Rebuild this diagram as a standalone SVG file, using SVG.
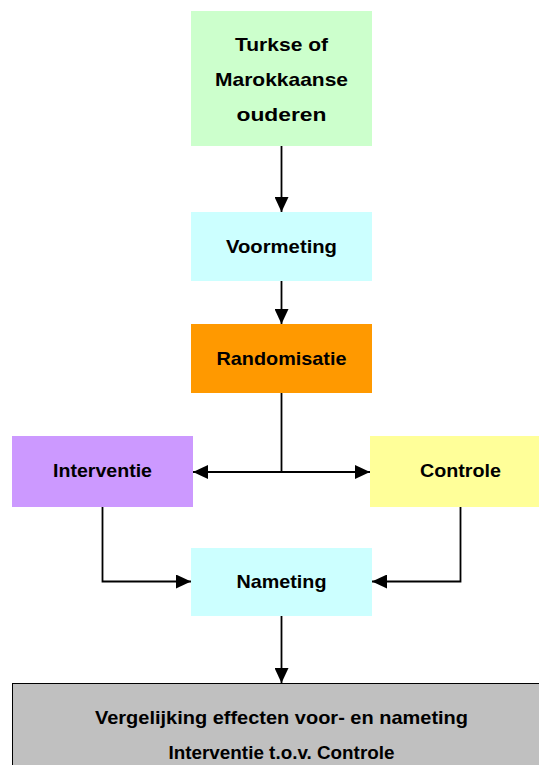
<svg xmlns="http://www.w3.org/2000/svg" width="539" height="765" viewBox="0 0 539 765">
<defs>
<marker id="ah" viewBox="0 0 15 14" refX="15" refY="7" markerWidth="15" markerHeight="14" markerUnits="userSpaceOnUse" orient="auto-start-reverse">
<path d="M0,0 L15,7 L0,14 z" fill="#000"/>
</marker>
</defs>
<style>
text{font-family:"Liberation Sans",Arial,sans-serif;font-weight:bold;font-size:19px;fill:#000;text-anchor:middle}
.c{fill:none;stroke:#000;stroke-width:1.8}
</style>
<rect width="539" height="765" fill="#fff"/>
<g id="connectors">
<line class="c" x1="281.5" y1="146" x2="281.5" y2="212" marker-end="url(#ah)"/>
<line class="c" x1="281.5" y1="281" x2="281.5" y2="324" marker-end="url(#ah)"/>
<line class="c" x1="281.5" y1="393" x2="281.5" y2="472"/>
<line class="c" x1="193" y1="472" x2="370" y2="472" marker-start="url(#ah)" marker-end="url(#ah)"/>
<polyline class="c" points="102.5,507 102.5,581.5 191,581.5" marker-end="url(#ah)"/>
<polyline class="c" points="460.5,507 460.5,581.5 372,581.5" marker-end="url(#ah)"/>
<line class="c" x1="281.5" y1="616" x2="281.5" y2="683" marker-end="url(#ah)"/>
</g>
<g id="n-turkse">
<rect x="191" y="11" width="181" height="135" fill="#CCFFCC"/>
<text x="281.5" y="51" textLength="93" lengthAdjust="spacingAndGlyphs">Turkse of</text>
<text x="281.5" y="85.5" textLength="133" lengthAdjust="spacingAndGlyphs">Marokkaanse</text>
<text x="281.5" y="120.5" textLength="90" lengthAdjust="spacingAndGlyphs">ouderen</text>
</g>
<g id="n-voormeting">
<rect x="191" y="212" width="181" height="69" fill="#CCFFFF"/>
<text x="281.5" y="253" textLength="111" lengthAdjust="spacingAndGlyphs">Voormeting</text>
</g>
<g id="n-randomisatie">
<rect x="191" y="324" width="181" height="69" fill="#FF9900"/>
<text x="281.5" y="365" textLength="130" lengthAdjust="spacingAndGlyphs">Randomisatie</text>
</g>
<g id="n-interventie">
<rect x="12" y="436" width="181" height="71" fill="#CC99FF"/>
<text x="102.5" y="476.5" textLength="99" lengthAdjust="spacingAndGlyphs">Interventie</text>
</g>
<g id="n-controle">
<rect x="370" y="436" width="181" height="71" fill="#FFFF99"/>
<text x="460.5" y="476.5" textLength="81" lengthAdjust="spacingAndGlyphs">Controle</text>
</g>
<g id="n-nameting">
<rect x="191" y="548" width="181" height="68" fill="#CCFFFF"/>
<text x="281.5" y="588" textLength="90" lengthAdjust="spacingAndGlyphs">Nameting</text>
</g>
<g id="n-vergelijking">
<rect x="12.5" y="683.5" width="538" height="100" fill="#C0C0C0" stroke="#000" stroke-width="1"/>
<text x="281.5" y="723.5" textLength="373" lengthAdjust="spacingAndGlyphs">Vergelijking effecten voor- en nameting</text>
<text x="281.5" y="758.5" textLength="226" lengthAdjust="spacingAndGlyphs">Interventie t.o.v. Controle</text>
</g>
</svg>
